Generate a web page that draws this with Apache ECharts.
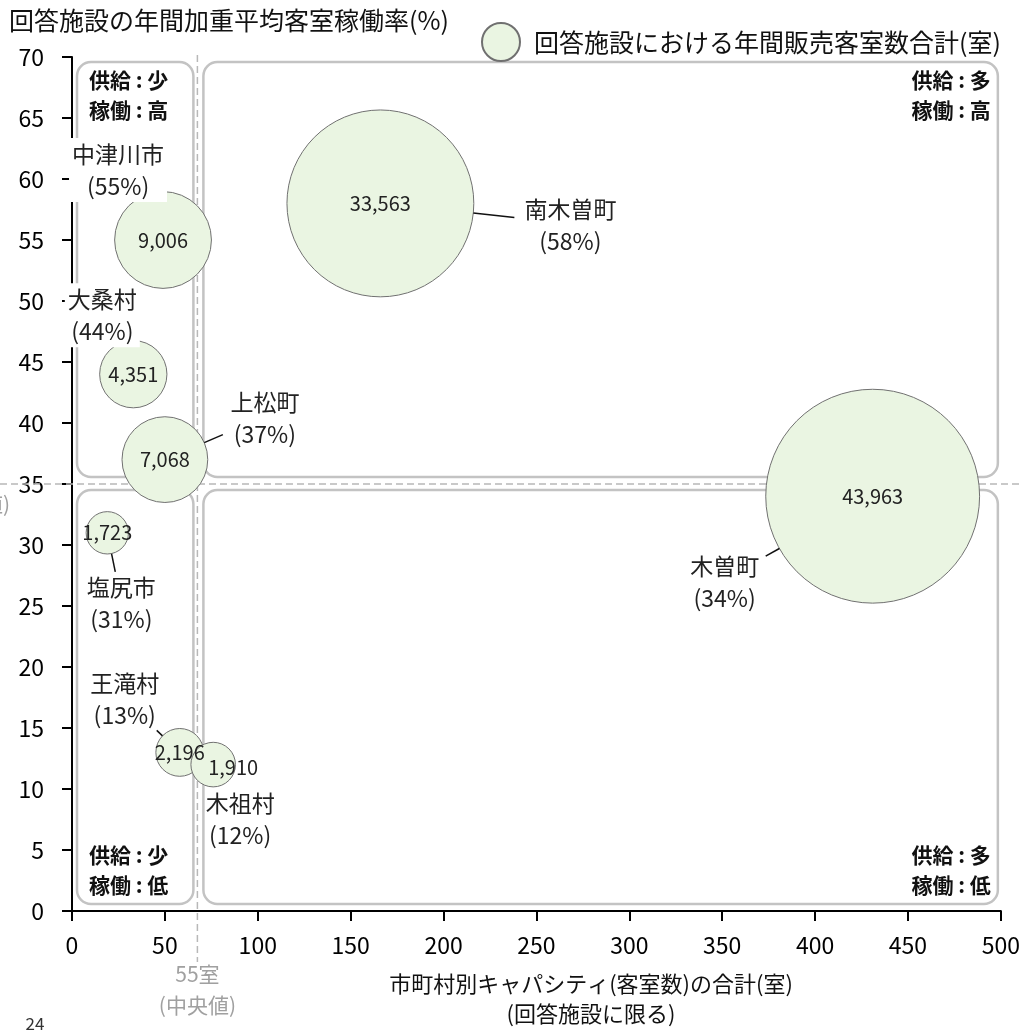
<!DOCTYPE html>
<html>
<head>
<meta charset="utf-8">
<script src="https://cdn.jsdelivr.net/npm/echarts@6/dist/echarts.min.js"></script>
<style>
  html, body { margin: 0; padding: 0; background: #fff; }
  #chart { width: 1023px; height: 1031px; }
</style>
</head>
<body>
<div id="chart"></div>
<script>
// 市町村ごとの値
const areaNames = ['南木曽町', '木曽町', '中津川市', '大桑村', '上松町', '塩尻市', '王滝村', '木祖村'];
const capacity = [166, 431, 49, 33, 50, 19, 58, 76];          // 客室数の合計(室)
const occupancy = [58, 34, 55, 44, 37, 31, 13, 12];           // 年間加重平均客室稼働率(%)
const roomsSold = [33563, 43963, 9006, 4351, 7068, 1723, 2196, 1910]; // 年間販売客室数合計(室)

const medianXPos = 67.5;   // 中央値の線の位置
const medianXText = '55室';
const medianY = 35;

const SERIES_NAME = '回答施設における年間販売客室数合計(室)';
const FONT = '"Noto Sans CJK JP", "Noto Sans", sans-serif';

// 名前ラベルの配置 (バブル中心からのずれ, px)
const nameLayout = {
  '南木曽町': { tx: 190, ty: 22, lx: 134, ly: 14 },
  '木曽町':   { tx: -148, ty: 86, lx: -107, ly: 60 },
  '中津川市': { tx: -45, ty: -70, bg: true },
  '大桑村':   { tx: -31, ty: -59, bg: true },
  '上松町':   { tx: 100, ty: -41, lx: 58, ly: -25 },
  '塩尻市':   { tx: 14, ty: 70, lx: 8, ly: 39 },
  '王滝村':   { tx: -55, ty: -53, lx: -23, ly: -22 },
  '木祖村':   { tx: 27, ty: 55 }
};
const valueLabelOffset = { '木祖村': [20, 3] };

const bubbleSize = v => 1.02 * Math.sqrt(v);

const chart = echarts.init(document.getElementById('chart'));

const data = areaNames.map((n, i) => {
  const item = { name: n, value: [capacity[i], occupancy[i], roomsSold[i]] };
  if (valueLabelOffset[n]) item.label = { offset: valueLabelOffset[n] };
  return item;
});

const option = {
  animation: false,
  textStyle: { fontFamily: FONT },
  grid: { left: 72, right: 22, top: 57, bottom: 120 },
  legend: {
    left: 476,
    top: 17,
    itemWidth: 38,
    itemHeight: 38,
    icon: 'circle',
    textStyle: { fontSize: 25, color: '#111', fontFamily: FONT, padding: [0, 0, 0, 9] },
    data: [SERIES_NAME]
  },
  xAxis: {
    type: 'value',
    min: 0,
    max: 500,
    interval: 50,
    splitLine: { show: false },
    axisLine: { show: true, lineStyle: { color: '#000', width: 2 } },
    axisTick: { show: true, length: 10, lineStyle: { color: '#000', width: 2 } },
    axisLabel: { fontSize: 23, color: '#000', margin: 23, fontFamily: FONT }
  },
  yAxis: {
    type: 'value',
    min: 0,
    max: 70,
    interval: 5,
    splitLine: { show: false },
    axisLine: { show: true, lineStyle: { color: '#000', width: 2 } },
    axisTick: { show: true, length: 10, lineStyle: { color: '#000', width: 2 } },
    axisLabel: { fontSize: 23, color: '#000', margin: 28, fontFamily: FONT }
  },
  series: [
    {
      name: SERIES_NAME,
      type: 'scatter',
      z: 5,
      data: data,
      symbolSize: v => bubbleSize(v[2]),
      itemStyle: { color: '#EAF5E2', borderColor: '#707070', borderWidth: 1, opacity: 1 },
      label: {
        show: true,
        position: 'inside',
        fontSize: 20,
        color: '#222',
        fontFamily: FONT,
        formatter: p => p.value[2].toLocaleString('en-US')
      },
      emphasis: { disabled: true }
    }
  ]
};

chart.setOption(option);

// 四象限の枠・中央値線・ラベル
const px = (x, y) => chart.convertToPixel({ gridIndex: 0 }, [x, y]);
const origin = px(0, 0);
const corner = px(500, 70);
const med = px(medianXPos, medianY);
const gLeft = origin[0], gBottom = origin[1], gRight = corner[0], gTop = corner[1];
const mx = med[0], my = med[1];

const boxStyle = { fill: 'none', stroke: '#c3c3c3', lineWidth: 2.5 };
const boxes = [
  [gLeft + 5, gTop + 5, mx - 4, my - 7],
  [mx + 6, gTop + 5, gRight - 3, my - 7],
  [gLeft + 5, my + 6, mx - 4, gBottom - 7],
  [mx + 6, my + 6, gRight - 3, gBottom - 7]
];
const graphic = [];
boxes.forEach(b => {
  graphic.push({
    type: 'rect', z: 1, silent: true,
    shape: { x: b[0], y: b[1], width: b[2] - b[0], height: b[3] - b[1], r: 14 },
    style: boxStyle
  });
});

const dashStyle = { stroke: '#b8b8b8', lineWidth: 1.5, lineDash: [7, 4] };
graphic.push({ type: 'line', z: 1, silent: true, shape: { x1: 0, y1: my, x2: 1023, y2: my }, style: dashStyle });
graphic.push({ type: 'line', z: 1, silent: true, shape: { x1: mx, y1: gTop - 2, x2: mx, y2: 962 }, style: dashStyle });

// 中央値ラベル
graphic.push({
  type: 'text', z: 10, silent: true,
  style: { text: medianXText + '\n(中央値)', x: mx, y: 990, align: 'center', verticalAlign: 'middle',
    fontSize: 21, lineHeight: 31, fill: '#a0a0a0', fontFamily: FONT }
});
graphic.push({
  type: 'text', z: 10, silent: true,
  style: { text: '(中央値)', x: 10, y: 504, align: 'right', verticalAlign: 'middle',
    fontSize: 21, fill: '#a0a0a0', fontFamily: FONT }
});

// 象限の説明
const quadText = [
  { text: '供給 : 少\n稼働 : 高', x: boxes[0][0] + 12, y: boxes[0][1] + 3, align: 'left' },
  { text: '供給 : 多\n稼働 : 高', x: boxes[1][2] - 7, y: boxes[1][1] + 3, align: 'right' },
  { text: '供給 : 少\n稼働 : 低', x: boxes[2][0] + 12, y: boxes[2][3] - 64, align: 'left' },
  { text: '供給 : 多\n稼働 : 低', x: boxes[3][2] - 7, y: boxes[3][3] - 64, align: 'right' }
];
quadText.forEach(q => {
  graphic.push({
    type: 'text', z: 10, silent: true,
    style: { text: q.text, x: q.x, y: q.y, align: q.align, verticalAlign: 'top',
      fontSize: 21, fontWeight: 'bold', lineHeight: 30, fill: '#111', fontFamily: FONT }
  });
});

// 市町村名ラベル
areaNames.forEach((n, i) => {
  const c = px(capacity[i], occupancy[i]);
  const r = bubbleSize(roomsSold[i]) / 2;
  const L = nameLayout[n];
  if (L.lx !== undefined) {
    const len = Math.hypot(L.lx, L.ly);
    graphic.push({
      type: 'line', z: 6, silent: true,
      shape: { x1: c[0] + L.lx / len * r, y1: c[1] + L.ly / len * r, x2: c[0] + L.lx, y2: c[1] + L.ly },
      style: { stroke: '#111', lineWidth: 1.5 }
    });
  }
  const st = {
    text: n + '\n(' + occupancy[i] + '%)',
    x: c[0] + L.tx, y: c[1] + L.ty, align: 'center', verticalAlign: 'middle',
    fontSize: 23, lineHeight: 32, fill: '#222', fontFamily: FONT
  };
  if (L.bg) {
    st.backgroundColor = '#fff';
    st.padding = [0, 3, 0, 3];
  }
  graphic.push({ type: 'text', z: 20, silent: true, style: st });
});

// 軸タイトル
graphic.push({
  type: 'text', z: 10, silent: true,
  style: { text: '回答施設の年間加重平均客室稼働率(%)', x: 9, y: 20, align: 'left', verticalAlign: 'middle',
    fontSize: 25, fill: '#111', fontFamily: FONT }
});
graphic.push({
  type: 'text', z: 10, silent: true,
  style: { text: '市町村別キャパシティ(客室数)の合計(室)\n(回答施設に限る)', x: 591, y: 999,
    align: 'center', verticalAlign: 'middle', fontSize: 22, lineHeight: 30, fill: '#111', fontFamily: FONT }
});
// ページ番号
graphic.push({
  type: 'text', z: 10, silent: true,
  style: { text: '24', x: 35, y: 1024, align: 'center', verticalAlign: 'middle',
    fontSize: 17, fill: '#333', fontFamily: FONT }
});

chart.setOption({ graphic: graphic });
</script>
</body>
</html>
